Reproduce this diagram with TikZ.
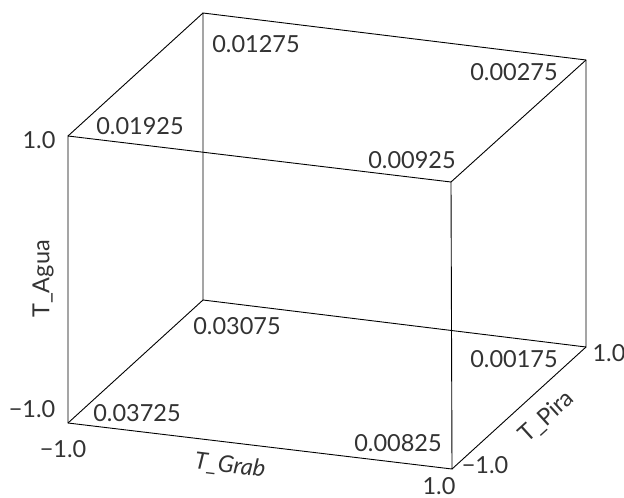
\documentclass[tikz,border=0pt]{standalone}
\usepackage{fontspec}
\setmainfont{Lato}
\begin{document}
\begin{tikzpicture}[x=1pt,y=-1pt,
  edge/.style={draw=black, line width=0.9pt},
  lbl/.style={font=\fontsize{23.5}{26}\selectfont, text=black!80, inner sep=0pt}]
\useasboundingbox (0,0) rectangle (624,498);
\coordinate (FTL) at (68,136);
\coordinate (FTR) at (451,182);
\coordinate (FBL) at (68,423);
\coordinate (FBR) at (452,469);
\coordinate (BTL) at (203,13);
\coordinate (BTR) at (586,60);
\coordinate (BBL) at (203,300);
\coordinate (BBR) at (586,347);
\draw[edge] (FTL) -- (FTR) -- (FBR) -- (FBL) -- cycle;
\draw[edge] (BTL) -- (BTR) -- (BBR) -- (BBL) -- cycle;
\draw[edge] (FTL) -- (BTL);
\draw[edge] (FTR) -- (BTR);
\draw[edge] (FBL) -- (BBL);
\draw[edge] (FBR) -- (BBR);
\node[lbl] (v1) at (256,44) {0.01275};
\node[lbl] (v2) at (140,126) {0.01925};
\node[lbl] (v3) at (514,72) {0.00275};
\node[lbl] (v4) at (412,160) {0.00925};
\node[lbl] (v5) at (237,326) {0.03075};
\node[lbl] (v6) at (137,413) {0.03725};
\node[lbl] (v7) at (514,359) {0.00175};
\node[lbl] (v8) at (398,443) {0.00825};
\node[lbl] (a1) at (39,140) {1.0};
\node[lbl] (a2) at (32,409) {−1.0};
\node[lbl] (a3) at (63,449) {−1.0};
\node[lbl] (a4) at (439,486) {1.0};
\node[lbl] (a5) at (485,465) {−1.0};
\node[lbl] (a6) at (609,353) {1.0};
\node[lbl, rotate=90] (tA) at (43,279) {T\_Agua};
\node[lbl, rotate=-6.8] (tG) at (230,466) {\itshape T\_Grab};
\node[lbl, rotate=42.3] (tP) at (547,417) {T\_Pira};
\end{tikzpicture}
\end{document}
